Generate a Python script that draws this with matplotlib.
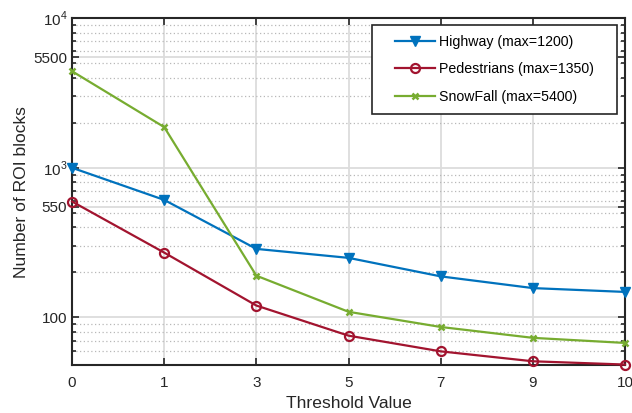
import matplotlib
matplotlib.use("Agg")
import matplotlib.pyplot as plt
from matplotlib.ticker import FixedLocator, NullFormatter
from matplotlib.patches import Rectangle

plt.rcParams['font.family'] = ['Liberation Sans', 'DejaVu Sans']
plt.rcParams['mathtext.fontset'] = 'custom'
plt.rcParams['mathtext.rm'] = 'Liberation Sans'

thresholds = ["0", "1", "3", "5", "7", "9", "10"]
highway = [1000, 610, 287, 250, 188, 157, 148]
pedestrians = [595, 271, 120, 75.5, 59.3, 50.9, 48.4]
snowfall = [4420, 1870, 190, 109, 86.3, 73, 67.5]
labels = ["Highway (max=1200)", "Pedestrians (max=1350)", "SnowFall (max=5400)"]
ytick_vals = [100, 550, 1000, 5500, 10000]
ytick_labels = ["100", "550", r"$10^3$", "5500", r"$10^4$"]

W, H = 632, 413
fig = plt.figure(figsize=(W / 100, H / 100), dpi=100)
ax = fig.add_axes([0.114, 0.116, 0.875, 0.840])

x = list(range(len(thresholds)))
ax.plot(x, highway, color='#0072BD', lw=1.6, marker='v', ms=7.5,
        mfc='#0072BD', mec='#0072BD', label=labels[0], zorder=3, clip_on=False)
ax.plot(x, pedestrians, color='#A2142F', lw=1.6, marker='o', ms=6.5,
        mfc='none', mec='#A2142F', mew=1.6, label=labels[1], zorder=3, clip_on=False)
ax.plot(x, snowfall, color='#77AC30', lw=1.6, marker='x', ms=4.5,
        mew=1.8, label=labels[2], zorder=3, clip_on=False)

ax.set_yscale('log')
ax.set_ylim(48, 10000)
ax.set_xlim(0, len(thresholds) - 1)
ax.set_xticks(x)
ax.set_xticklabels(thresholds)
ax.yaxis.set_major_locator(FixedLocator(ytick_vals))
ax.set_yticklabels(ytick_labels)
minors = [60, 70, 80, 90, 200, 300, 400, 500, 600, 700, 800, 900,
          2000, 3000, 4000, 5000, 6000, 7000, 8000, 9000]
ax.yaxis.set_minor_locator(FixedLocator(minors))
ax.yaxis.set_minor_formatter(NullFormatter())

ax.grid(True, which='major', color='#DCDCDC', lw=1.3, ls='-', zorder=0)
ax.grid(True, which='minor', axis='y', color='#B8B8B8', lw=0.9, ls=(0, (1, 2)), zorder=0)
ax.set_axisbelow(True)

ax.tick_params(which='both', direction='in', top=True, right=True, labelsize=11,
               colors='#262626', width=1.2)
ax.tick_params(which='major', length=5)
ax.tick_params(which='minor', length=3)
ax.tick_params(axis='x', pad=8)
for s in ax.spines.values():
    s.set_linewidth(1.5)
    s.set_color('#262626')

ax.set_xlabel("Threshold Value", fontsize=12.6, color='#262626', labelpad=4)
ax.set_ylabel("Number of ROI blocks", fontsize=12.6, color='#262626', labelpad=3)

# legend with wider horizontal padding than vertical (frame drawn separately)
hpad = 13
right_px, top_px = 617, 25
leg_kw = dict(loc='upper right',
              bbox_to_anchor=((right_px - hpad) / W, 1 - top_px / H),
              bbox_transform=fig.transFigure, fontsize=10.2,
              frameon=False, borderpad=0.7, labelspacing=0.95,
              handlelength=2.8, handletextpad=0.3, borderaxespad=0)
handles, labs = ax.get_legend_handles_labels()
leg = fig.legend(handles, labs, **leg_kw)
leg.set_zorder(6)
fig.canvas.draw()
bb = leg.get_window_extent(fig.canvas.get_renderer())
rect = Rectangle(((bb.x0 - hpad) / W, bb.y0 / H), (bb.width + 2 * hpad) / W, bb.height / H,
                 transform=fig.transFigure, facecolor='white', edgecolor='#262626',
                 lw=1.2, zorder=5)
fig.add_artist(rect)

fig.savefig("out.png", dpi=100)
